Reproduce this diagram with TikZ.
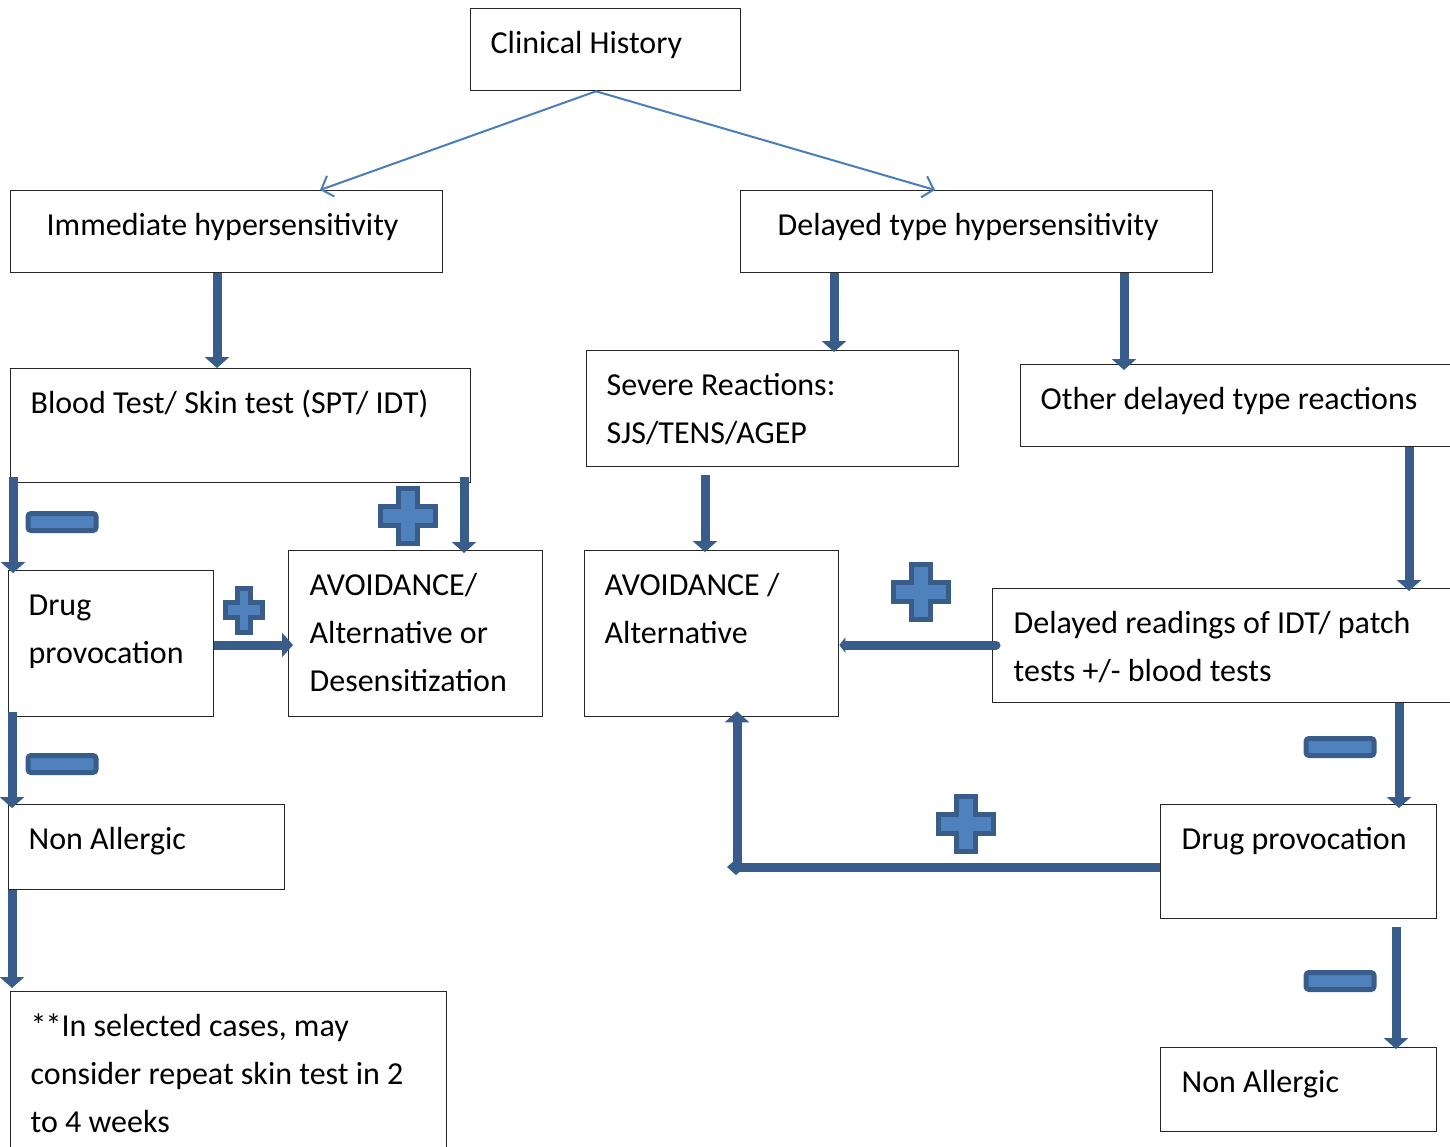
\documentclass[tikz,border=0pt]{standalone}
\usepackage{fontspec}
\setmainfont{Carlito}
\usetikzlibrary{arrows.meta,calc}
\definecolor{sfill}{HTML}{4F81BD}
\definecolor{sline}{HTML}{385D8A}
\definecolor{thinblue}{HTML}{4A7EBB}
\newcommand\bxt[4]{\parbox[c][#2][t]{#1}{\raggedright\leftskip=#3\relax\vspace*{11.4pt}\strut #4\strut}}
\tikzset{
  box/.style={draw=black!85, line width=1.3pt, inner sep=0pt, anchor=north west,
    font=\fontsize{32}{48}\selectfont},
  thinarr/.style={draw=thinblue, line width=2pt, -{Straight Barb[length=10pt,width=22pt]}},
  bigarr/.style={draw=sline, line width=9pt, -{Triangle[width=24pt,length=11pt]}},
  smallarr/.style={draw=sline, line width=9pt, line cap=round, -{Triangle[width=15pt,length=6pt]}},
  sign/.style={fill=sfill, draw=sline, line width=5pt},
  plussign/.pic={\filldraw[sign] (-9.5,-27.5) -- (9.5,-27.5) -- (9.5,-9.5) -- (27.5,-9.5) -- (27.5,9.5) -- (9.5,9.5) -- (9.5,27.5) -- (-9.5,27.5) -- (-9.5,9.5) -- (-27.5,9.5) -- (-27.5,-9.5) -- (-9.5,-9.5) -- cycle;},
  minussign/.pic={\filldraw[sign, rounded corners=3pt] (-34,-8.5) rectangle (34,8.5);}
}
\begin{document}
\begin{tikzpicture}[x=1pt,y=-1pt]
\useasboundingbox (0,0) rectangle (1450,1146);
\fill[white] (0,0) rectangle (1450,1146);
\clip (0,0) rectangle (1450,1146);

% boxes
\node[box] (ch) at (470,8) {\bxt{270pt}{82pt}{20pt}{Clinical History}};
\node[box] (imm) at (10,190) {\bxt{432pt}{82pt}{36pt}{Immediate hypersensitivity}};
\node[box] (del) at (740,190) {\bxt{472pt}{82pt}{37pt}{Delayed type hypersensitivity}};
\node[box] (blood) at (10,368) {\bxt{460pt}{114pt}{20pt}{Blood Test/ Skin test (SPT/ IDT)}};
\node[box] (sev) at (586,350) {\bxt{372pt}{116pt}{20pt}{Severe Reactions:\\SJS/TENS/AGEP}};
\node[box] (oth) at (1020,364) {\bxt{450pt}{82pt}{20pt}{Other delayed type reactions}};
\node[box] (drug) at (8,570) {\bxt{205pt}{146pt}{20pt}{Drug\\provocation}};
\node[box] (av1) at (288,550) {\bxt{254pt}{166pt}{21pt}{AVOIDANCE/\\Alternative or\\Desensitization}};
\node[box] (av2) at (584,550) {\bxt{254pt}{166pt}{20pt}{AVOIDANCE /\\Alternative}};
\node[box] (dr) at (992,588) {\bxt{478pt}{114pt}{21pt}{Delayed readings of IDT/ patch\\tests +/- blood tests}};
\node[box] (na1) at (8,804) {\bxt{276pt}{85pt}{20pt}{Non Allergic}};
\node[box] (dp) at (1160,804) {\bxt{276pt}{114pt}{21pt}{Drug provocation}};
\node[box] (note) at (10,991) {\bxt{436pt}{170pt}{20pt}{*\kern-1pt*In selected cases, may\\consider repeat skin test in 2\\to 4 weeks}};
\node[box] (na2) at (1160,1047) {\bxt{276pt}{84pt}{21pt}{Non Allergic}};

% thin connectors
\draw[thinarr] (ch.south -| 596,0) -- (imm.north -| 320,0);
\draw[thinarr] (ch.south -| 596,0) -- (del.north -| 935,0);

% thick connectors
\draw[bigarr] (imm.south -| 217,0) -- (blood.north -| 217,0);
\draw[bigarr] (del.south -| 834,0) -- ([yshift=-2pt]sev.north -| 834,0);
\draw[bigarr] (del.south -| 1124,0) -- ([yshift=-6pt]oth.north -| 1124,0);
\draw[bigarr] ([yshift=6pt]blood.south -| 13,0) -- ([yshift=-3pt]drug.north -| 13,0);
\draw[bigarr] ([yshift=6pt]blood.south -| 464,0) -- ([yshift=-3pt]av1.north -| 464,0);
\draw[bigarr] ([yshift=-8pt]sev.south -| 705,0) -- ([yshift=-2pt]av2.north -| 705,0);
\draw[bigarr] (oth.south -| 1409,0) -- ([yshift=-3pt]dr.north -| 1409,0);
\draw[bigarr] (drug.east |- 0,645) -- ([xshift=5pt]av1.west |- 0,645);
\draw[bigarr] ([yshift=5pt]drug.south -| 12,0) -- ([yshift=-4pt]na1.north -| 12,0);
\draw[bigarr] (na1.south -| 12,0) -- ([yshift=3pt]note.north -| 12,0);
\draw[smallarr] ([xshift=4pt]dr.west |- 0,645) -- (av2.east |- 0,645);
\draw[bigarr] (dr.south -| 1399,0) -- ([yshift=-4pt]dp.north -| 1399,0);
\draw[bigarr] ([yshift=-8pt]dp.south -| 1396,0) -- ([yshift=-2pt]na2.north -| 1396,0);
\coordinate (corner) at (737,867);
\draw[draw=sline, line width=9pt, -{Diamond[length=18pt,width=16pt]}] (dp.west |- corner) -- ([xshift=-10pt]corner);
\draw[bigarr] ([yshift=-4.5pt]corner) -- ([yshift=6pt]av2.south -| corner);

% signs
\pic at (408,516) {plussign};
\pic[xscale=0.66,yscale=0.8] at (244,610) {plussign};
\pic at (921,592) {plussign};
\pic at (966,824) {plussign};
\pic at (62,522) {minussign};
\pic at (62,764) {minussign};
\pic at (1340,747) {minussign};
\pic at (1340,981) {minussign};
\end{tikzpicture}
\end{document}
